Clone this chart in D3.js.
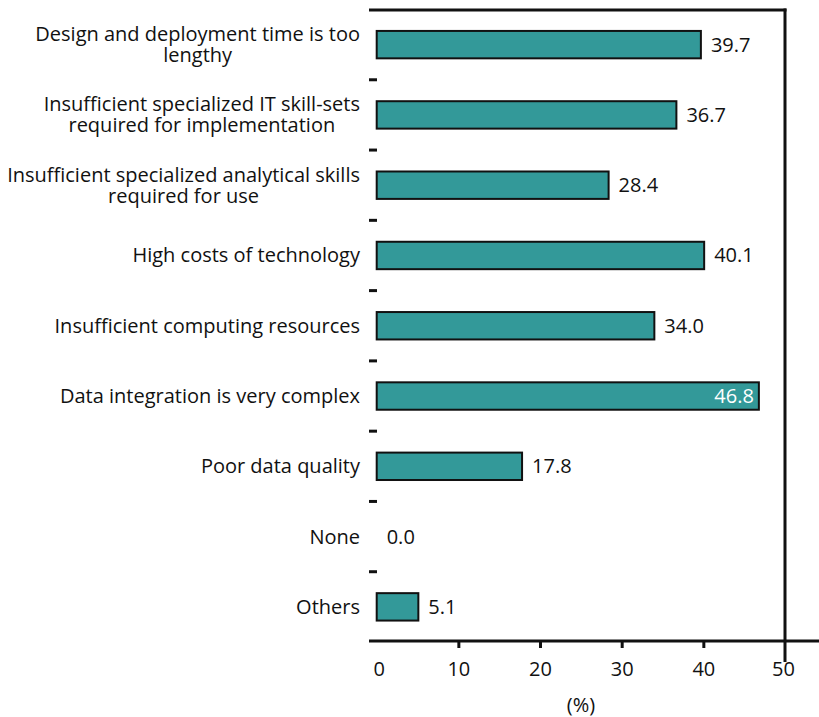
<!DOCTYPE html>
<html><head><meta charset="utf-8">
<script src="https://cdn.jsdelivr.net/npm/d3@7"></script>
<style>body{margin:0;background:#fff}svg{display:block}text{font-family:"Open Sans",sans-serif}</style>
</head><body><svg id="c" width="819" height="717"></svg>
<script>
const categories = [
  ["Design and deployment time is too","lengthy"],
  ["Insufficient specialized IT skill-sets","required for implementation"],
  ["Insufficient specialized analytical skills","required for use"],
  ["High costs of technology"],
  ["Insufficient computing resources"],
  ["Data integration is very complex"],
  ["Poor data quality"],
  ["None"],
  ["Others"]
];
const values = [39.7, 36.7, 28.4, 40.1, 34.0, 46.8, 17.8, 0.0, 5.1];
const xTicks = [0, 10, 20, 30, 40, 50];
const axisTitle = "(%)";

const svg = d3.select("#c");
const x = d3.scaleLinear().domain([0, 50]).range([376.7, 785]);
const y = d3.scaleBand().domain(d3.range(categories.length)).range([9.5, 642]).paddingInner(0.61).paddingOuter(0.305);
const teal = "#339999";
const fs = 20;
const fam = "'Open Sans',sans-serif";

svg.selectAll("rect.bar").data(values).join("rect")
  .attr("class","bar")
  .attr("x", x(0)).attr("y", (d,i)=>y(i))
  .attr("width", d=>Math.max(0, x(d)-x(0))).attr("height", y.bandwidth())
  .attr("fill", teal).attr("stroke", d=>d>0?"#111":"none").attr("stroke-width", 2);

svg.selectAll("text.val").data(values).join("text")
  .attr("class","val")
  .attr("x", d=> d>45 ? x(d)-5 : x(d)+10)
  .attr("y", (d,i)=>y(i)+y.bandwidth()/2)
  .attr("dy","0.35em")
  .attr("text-anchor", d=> d>45 ? "end" : "start")
  .attr("fill", d=> d>45 ? "#fff" : "#111")
  .attr("font-size", fs)
  .text(d=>d.toFixed(1));

const lh = 21;
categories.forEach((lines,i)=>{
  const cy = y(i)+y.bandwidth()/2;
  const tmp = svg.append("text").attr("font-size", fs);
  let w = 0;
  lines.forEach(l=>{ tmp.text(l); w = Math.max(w, tmp.node().getComputedTextLength()); });
  tmp.remove();
  const cx = 360 - w/2;
  lines.forEach((l,k)=>{
    svg.append("text").attr("class","cat").attr("x", cx)
      .attr("y", cy + (k - (lines.length-1)/2)*lh)
      .attr("dy","0.35em").attr("text-anchor","middle")
      .attr("font-size", fs).attr("fill","#111").text(l);
  });
});

const seps = d3.range(1, categories.length).map(i => (y(i-1)+y.bandwidth()+y(i))/2);
svg.selectAll("line.sep").data(seps).join("line")
  .attr("x1", 369).attr("x2", 377).attr("y1", d=>d).attr("y2", d=>d)
  .attr("stroke","#111").attr("stroke-width",3);

svg.append("line").attr("x1",369).attr("x2",786.5).attr("y1",10).attr("y2",10).attr("stroke","#111").attr("stroke-width",3);
svg.append("line").attr("x1",x(50)).attr("x2",x(50)).attr("y1",8.5).attr("y2",662).attr("stroke","#111").attr("stroke-width",3);

const xAxis = d3.axisBottom(x).tickValues(xTicks).tickSize(7).tickPadding(14).tickFormat(d3.format("d"));
const gx = svg.append("g").attr("transform","translate(0,641)").call(xAxis);
gx.select(".domain").remove();
gx.append("line").attr("x1",369).attr("x2",819).attr("y1",0).attr("y2",0).attr("stroke","#111").attr("stroke-width",3);
gx.selectAll(".tick line").attr("stroke","#111").attr("stroke-width",3).filter(d=>d===0||d===50).remove();
gx.selectAll(".tick text").attr("font-size",fs).attr("fill","#111").style("font-family",fam);
gx.selectAll(".tick").filter(d=>d===0).select("text").attr("dx",2);
gx.selectAll(".tick").filter(d=>d===50).select("text").attr("dx",-2);

svg.append("text").attr("x",581).attr("y",705).attr("dy","0.35em").attr("text-anchor","middle")
  .attr("font-size",fs).attr("fill","#111").text(axisTitle);
</script></body></html>
